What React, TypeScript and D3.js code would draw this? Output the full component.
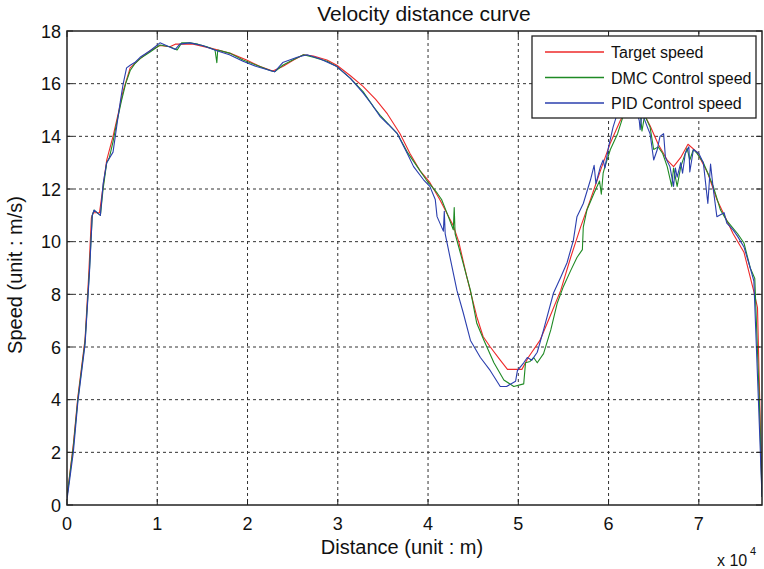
import React from "react";
import * as d3 from "d3";

// distance in units of 10^4 m, speed in m/s
const targetSpeed: [number, number][] = [
  [0, 0.3], [0.07, 2.3], [0.12, 4.1], [0.2, 6.3], [0.24, 8.7], [0.27, 10.9], [0.29, 11.1], [0.36, 11.1],
  [0.4, 12.1], [0.44, 13.1], [0.51, 14.0], [0.57, 14.9], [0.62, 15.7], [0.7, 16.6], [0.81, 16.95],
  [0.92, 17.25], [1.03, 17.45], [1.14, 17.4], [1.2, 17.5], [1.29, 17.5], [1.4, 17.5], [1.59, 17.35],
  [1.81, 17.15], [1.99, 16.9], [2.14, 16.65], [2.28, 16.48], [2.39, 16.65], [2.51, 16.9], [2.62, 17.1],
  [2.73, 17.05], [2.88, 16.9], [2.99, 16.7], [3.14, 16.3], [3.28, 15.9], [3.42, 15.4], [3.55, 14.85],
  [3.69, 14.1], [3.8, 13.35], [3.91, 12.7], [4.02, 12.25], [4.13, 11.6], [4.28, 10.6], [4.34, 10.0],
  [4.43, 8.65], [4.54, 7.15], [4.61, 6.4], [4.69, 6.0], [4.8, 5.5], [4.88, 5.15], [5.04, 5.15],
  [5.11, 5.6], [5.24, 6.25], [5.35, 7.15], [5.47, 8.15], [5.58, 9.4], [5.69, 10.55], [5.8, 11.6],
  [5.91, 12.7], [6.02, 13.75], [6.13, 14.6], [6.22, 15.1], [6.32, 15.2], [6.4, 14.8], [6.46, 14.4],
  [6.55, 13.7], [6.65, 13.1], [6.72, 12.85], [6.8, 13.2], [6.88, 13.7], [6.98, 13.4], [7.1, 12.6],
  [7.2, 11.6], [7.38, 10.3], [7.5, 9.6], [7.61, 8.1], [7.65, 7.5], [7.7, 0.4],
];

const dmcSpeed: [number, number][] = [
  [0, 0.3], [0.07, 2.2], [0.12, 4.0], [0.2, 6.2], [0.25, 9.0], [0.28, 11.0], [0.3, 11.2], [0.37, 11.0],
  [0.4, 12.0], [0.44, 13.0], [0.47, 13.2], [0.51, 13.8], [0.55, 14.5], [0.6, 15.3], [0.65, 16.0],
  [0.7, 16.5], [0.75, 16.75], [0.81, 16.95], [0.92, 17.2], [1.03, 17.47], [1.14, 17.4], [1.22, 17.28],
  [1.27, 17.55], [1.36, 17.55], [1.45, 17.5], [1.55, 17.4], [1.64, 17.28], [1.66, 16.8], [1.67, 17.28],
  [1.81, 17.15], [1.95, 16.9], [2.1, 16.7], [2.25, 16.5], [2.3, 16.45], [2.39, 16.7], [2.5, 16.9],
  [2.62, 17.1], [2.73, 17.0], [2.88, 16.85], [2.99, 16.65], [3.14, 16.2], [3.28, 15.7], [3.4, 15.1],
  [3.47, 14.8], [3.55, 14.5], [3.66, 14.1], [3.77, 13.4], [3.88, 12.85], [3.98, 12.35], [4.1, 11.85],
  [4.15, 11.6], [4.22, 11.0], [4.28, 10.45], [4.29, 11.3], [4.3, 10.3], [4.36, 9.55], [4.47, 8.15],
  [4.54, 6.9], [4.62, 6.25], [4.73, 5.4], [4.84, 4.75], [4.95, 4.5], [5.06, 4.6], [5.08, 5.4],
  [5.13, 5.45], [5.17, 5.6], [5.21, 5.4], [5.28, 5.75], [5.36, 6.65], [5.43, 7.65], [5.5, 8.3],
  [5.58, 8.9], [5.65, 9.4], [5.71, 9.7], [5.72, 10.55], [5.76, 11.2], [5.84, 11.85], [5.9, 12.3],
  [5.92, 11.8], [5.94, 12.6], [5.96, 12.85], [6.02, 13.5], [6.1, 14.1], [6.16, 14.75], [6.25, 15.1],
  [6.35, 14.9], [6.37, 14.2], [6.4, 14.8], [6.46, 14.35], [6.5, 13.5], [6.55, 13.6], [6.6, 13.35],
  [6.65, 12.85], [6.7, 12.1], [6.72, 12.8], [6.76, 12.1], [6.8, 12.85], [6.87, 13.55], [6.9, 13.1],
  [6.94, 13.5], [6.98, 13.35], [7.05, 13.0], [7.1, 12.6], [7.16, 12.1], [7.24, 11.2], [7.31, 10.8],
  [7.43, 10.3], [7.5, 9.95], [7.57, 9.0], [7.62, 8.6], [7.67, 4.0], [7.7, 0.3],
];

const pidSpeed: [number, number][] = [
  [0, 0.2], [0.07, 2.0], [0.12, 3.9], [0.2, 6.1], [0.25, 8.9], [0.28, 11.0], [0.3, 11.2], [0.37, 11.0],
  [0.4, 12.2], [0.44, 13.0], [0.51, 13.4], [0.56, 14.6], [0.59, 15.3], [0.62, 15.95], [0.66, 16.6],
  [0.7, 16.7], [0.75, 16.8], [0.81, 17.0], [0.92, 17.25], [1.03, 17.55], [1.1, 17.45], [1.2, 17.3],
  [1.25, 17.5], [1.36, 17.55], [1.5, 17.45], [1.66, 17.25], [1.8, 17.1], [1.95, 16.85], [2.1, 16.65],
  [2.25, 16.5], [2.3, 16.45], [2.39, 16.8], [2.55, 17.0], [2.66, 17.1], [2.8, 16.95], [2.99, 16.65],
  [3.14, 16.2], [3.28, 15.65], [3.38, 15.2], [3.47, 14.75], [3.56, 14.45], [3.66, 14.1], [3.77, 13.35],
  [3.84, 12.85], [3.95, 12.35], [4.02, 12.1], [4.08, 11.6], [4.1, 10.95], [4.17, 10.4], [4.18, 11.15],
  [4.19, 10.3], [4.25, 9.3], [4.32, 8.15], [4.39, 7.3], [4.47, 6.25], [4.58, 5.6], [4.69, 5.1],
  [4.8, 4.5], [4.87, 4.5], [4.97, 4.7], [4.99, 5.1], [5.06, 5.4], [5.1, 5.6], [5.15, 5.5], [5.21, 5.8],
  [5.28, 6.65], [5.39, 8.05], [5.47, 8.65], [5.54, 9.2], [5.61, 10.05], [5.65, 10.95], [5.72, 11.45],
  [5.8, 12.35], [5.84, 12.9], [5.86, 12.2], [5.91, 12.85], [5.94, 13.1], [5.96, 12.8], [6.0, 13.6],
  [6.05, 14.35], [6.1, 14.9], [6.2, 15.2], [6.3, 15.1], [6.34, 14.6], [6.35, 14.25], [6.37, 14.9],
  [6.43, 14.35], [6.46, 14.1], [6.5, 13.1], [6.54, 13.5], [6.57, 14.0], [6.61, 14.1], [6.63, 13.2],
  [6.68, 12.85], [6.72, 12.1], [6.74, 12.8], [6.76, 12.45], [6.8, 13.0], [6.82, 12.6], [6.85, 13.35],
  [6.89, 13.6], [6.9, 12.65], [6.94, 13.5], [7.0, 13.35], [7.05, 13.0], [7.1, 11.45], [7.13, 12.95],
  [7.16, 12.0], [7.2, 10.95], [7.28, 11.1], [7.31, 10.7], [7.38, 10.45], [7.43, 10.2], [7.5, 9.8],
  [7.57, 9.0], [7.61, 8.5], [7.66, 4.0], [7.7, 0.3],
];

const xTicks = [0, 1, 2, 3, 4, 5, 6, 7];
const yTicks = [0, 2, 4, 6, 8, 10, 12, 14, 16, 18];
const seriesNames = ["Target speed", "DMC Control speed", "PID Control speed"];
const seriesColors = ["#ee2a2a", "#1f8a24", "#2b3fae"];
const seriesData = [targetSpeed, dmcSpeed, pidSpeed];

const W = 764;
const H = 569;
const L = 67, R = 762, T = 31, B = 505;
const FONT = "Arial, 'Liberation Sans', Helvetica, sans-serif";

export default function App() {
  const x = d3.scaleLinear().domain([0, 7.7]).range([L, R]);
  const y = d3.scaleLinear().domain([0, 18]).range([B, T]);
  const line = d3.line<[number, number]>().x((d) => x(d[0])).y((d) => y(d[1]));

  const legX = 532, legY = 36, legW = 224, legH = 82;
  const rowY = [52, 77.5, 103];

  return (
    <svg width={W} height={H} style={{ position: "fixed", left: 0, top: 0, background: "#fff" }} fontFamily={FONT}>
      <defs>
        <clipPath id="plotClip">
          <rect x={L} y={T} width={R - L} height={B - T} />
        </clipPath>
      </defs>
      <rect x={0} y={0} width={W} height={H} fill="#fff" />
      {xTicks.slice(1).map((t) => (
        <line key={"gx" + t} x1={x(t)} x2={x(t)} y1={T} y2={B} stroke="#333" strokeWidth={1} strokeDasharray="3,3" />
      ))}
      {yTicks.slice(1, -1).map((t) => (
        <line key={"gy" + t} x1={L} x2={R} y1={y(t)} y2={y(t)} stroke="#333" strokeWidth={1} strokeDasharray="3,3" />
      ))}
      <g clipPath="url(#plotClip)">
        {seriesData.map((d, i) => (
          <path key={i} d={line(d) || ""} fill="none" stroke={seriesColors[i]} strokeWidth={1.1} strokeLinejoin="round" />
        ))}
      </g>
      <rect x={L} y={T} width={R - L} height={B - T} fill="none" stroke="#222" strokeWidth={1.5} />
      {xTicks.map((t) => (
        <g key={"xt" + t}>
          <line x1={x(t)} x2={x(t)} y1={B} y2={B - 6} stroke="#222" />
          <line x1={x(t)} x2={x(t)} y1={T} y2={T + 6} stroke="#222" />
          <text x={x(t)} y={530} fontSize={18} textAnchor="middle" fill="#111">{t}</text>
        </g>
      ))}
      {yTicks.map((t) => (
        <g key={"yt" + t}>
          <line x1={L} x2={L + 6} y1={y(t)} y2={y(t)} stroke="#222" />
          <line x1={R} x2={R - 6} y1={y(t)} y2={y(t)} stroke="#222" />
          <text x={61} y={y(t) + 6.5} fontSize={18} textAnchor="end" fill="#111">{t}</text>
        </g>
      ))}
      <text x={424} y={21} fontSize={21} textAnchor="middle" fill="#111">Velocity distance curve</text>
      <text x={402} y={554} fontSize={20} textAnchor="middle" fill="#111">Distance (unit : m)</text>
      <text transform={`translate(22,275) rotate(-90)`} fontSize={20} textAnchor="middle" fill="#111">Speed (unit : m/s)</text>
      <text x={717} y={566} fontSize={16} fill="#111">x 10</text>
      <text x={750} y={555} fontSize={11} fill="#111">4</text>
      <rect x={legX} y={legY} width={legW} height={legH} fill="#fff" stroke="#222" strokeWidth={1.3} />
      {seriesNames.map((n, i) => (
        <g key={n}>
          <line x1={545} x2={604} y1={rowY[i]} y2={rowY[i]} stroke={seriesColors[i]} strokeWidth={1.3} />
          <text x={611} y={rowY[i] + 6} fontSize={16} fill="#111">{n}</text>
        </g>
      ))}
    </svg>
  );
}
